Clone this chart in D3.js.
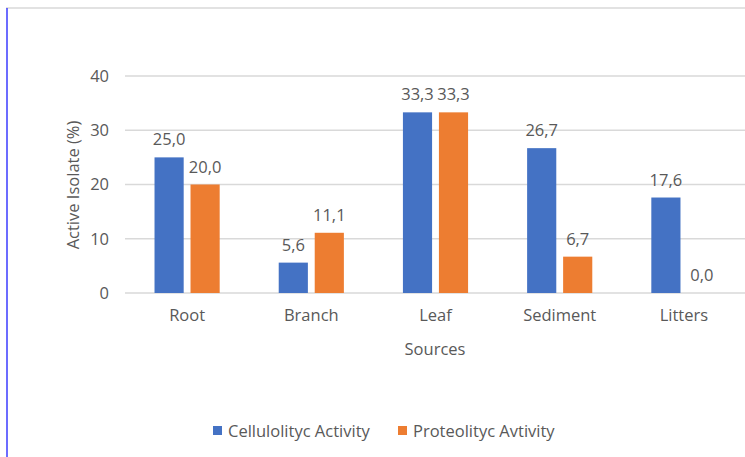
<!DOCTYPE html>
<html>
<head>
<meta charset="utf-8">
<script src="https://cdn.jsdelivr.net/npm/d3@7"></script>
<style>
  html, body { margin: 0; padding: 0; background: #fff; }
  svg { display: block; }
  text { font-family: "Open Sans", "Noto Sans", sans-serif; fill: #595959; }
</style>
</head>
<body>
<svg id="chart" width="745" height="457"></svg>
<script>
// Sources of isolates and the share of active isolates per activity
const categories = ["Root", "Branch", "Leaf", "Sediment", "Litters"];
const cellulolytic = [25.0, 5.6, 33.3, 26.7, 17.6];
const proteolytic = [20.0, 11.1, 33.3, 6.7, 0.0];
const seriesNames = ["Cellulolityc Activity", "Proteolityc Avtivity"];
const seriesColors = ["#4472C4", "#ED7D31"];
const yTicks = [0, 10, 20, 30, 40];

const svg = d3.select("#chart");
const W = 745, H = 457;
const FS = 16.5;

// Frame: light top border and a blue left edge
svg.append("line").attr("x1", 6).attr("x2", W).attr("y1", 8).attr("y2", 8)
  .attr("stroke", "#d9d9d9").attr("stroke-width", 1.5);
svg.append("line").attr("x1", 7).attr("x2", 7).attr("y1", 8).attr("y2", H)
  .attr("stroke", "#3b3bff").attr("stroke-width", 1.5);

const x = d3.scaleBand().domain(categories).range([125, 746]);
const y = d3.scaleLinear().domain([0, 40]).range([293, 76]);
const inner = d3.scaleBand().domain([0, 1]).range([0, x.bandwidth()]).paddingInner(0.19).paddingOuter(0.82);

// Gridlines
svg.append("g").selectAll("line").data(yTicks).join("line")
  .attr("x1", 125).attr("x2", W)
  .attr("y1", d => y(d)).attr("y2", d => y(d))
  .attr("stroke", "#d9d9d9").attr("stroke-width", 1.3);

// Y tick labels
const yAxis = d3.axisLeft(y).tickValues(yTicks).tickSize(0).tickPadding(0);
const gy = svg.append("g").attr("transform", "translate(109,0)").call(yAxis);
gy.select(".domain").remove();
gy.selectAll("text").attr("font-size", FS).style("font-family", "'Open Sans', sans-serif").attr("fill", "#595959");

// X category labels
const xAxis = d3.axisBottom(x).tickSize(0).tickPadding(0);
const gx = svg.append("g").attr("transform", "translate(0,309)").call(xAxis);
gx.select(".domain").remove();
gx.selectAll("text").attr("font-size", FS).style("font-family", "'Open Sans', sans-serif").attr("fill", "#595959");

// Bars and value labels
const series = [cellulolytic, proteolytic];
const fmt = v => v.toFixed(1).replace(".", ",");
series.forEach((vals, si) => {
  const g = svg.append("g");
  g.selectAll("rect").data(vals).join("rect")
    .attr("x", (d, i) => x(categories[i]) + inner(si))
    .attr("width", inner.bandwidth())
    .attr("y", d => y(d))
    .attr("height", d => y(0) - y(d))
    .attr("fill", seriesColors[si]);
  g.selectAll("text").data(vals).join("text")
    .attr("x", (d, i) => x(categories[i]) + inner(si) + inner.bandwidth() / 2)
    .attr("y", d => y(d) - 12)
    .attr("text-anchor", "middle")
    .attr("font-size", FS)
    .text(fmt);
});

// Axis titles
svg.append("text")
  .attr("transform", "translate(79,185) rotate(-90)")
  .attr("text-anchor", "middle").attr("font-size", FS)
  .text("Active Isolate (%)");
svg.append("text")
  .attr("x", 435).attr("y", 355)
  .attr("text-anchor", "middle").attr("font-size", FS)
  .text("Sources");

// Legend
const legendX = [213, 398];
seriesNames.forEach((name, i) => {
  svg.append("rect").attr("x", legendX[i]).attr("y", 426).attr("width", 9).attr("height", 9)
    .attr("fill", seriesColors[i]);
  svg.append("text").attr("x", legendX[i] + 15).attr("y", 437)
    .attr("font-size", FS).text(name);
});
</script>
</body>
</html>
